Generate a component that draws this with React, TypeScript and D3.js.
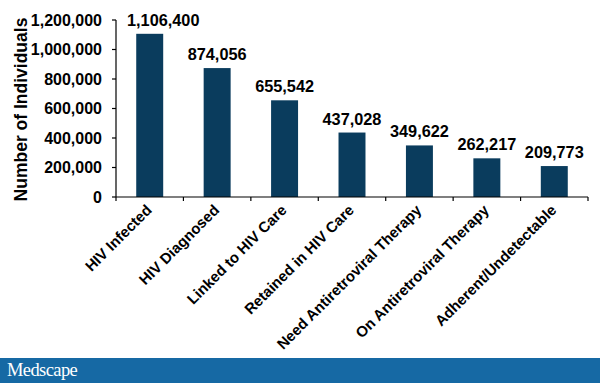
import React from "react";
import * as d3 from "d3";

const categories = [
  "HIV Infected",
  "HIV Diagnosed",
  "Linked to HIV Care",
  "Retained in HIV Care",
  "Need Antiretroviral Therapy",
  "On Antiretroviral Therapy",
  "Adherent/Undetectable",
];
const values = [1106400, 874056, 655542, 437028, 349622, 262217, 209773];
const yTicks = [0, 200000, 400000, 600000, 800000, 1000000, 1200000];

const W = 600;
const H = 383;
const left = 116;
const right = 588;
const top = 20;
const bottom = 197;

export default function App() {
  const x = d3.scaleBand<string>().domain(categories).range([left, right]).paddingInner(0.6).paddingOuter(0.3);
  const y = d3.scaleLinear().domain([0, 1200000]).range([bottom, top]);
  const fmt = d3.format(",");
  const font = "Arial, 'Liberation Sans', sans-serif";
  const step = (right - left) / categories.length;
  const tickXs = d3.range(categories.length + 1).map((i) => left + i * step);
  const valueFs = 16.3;
  const approxWidth = (s: string) => {
    let w = 0;
    for (const ch of s) w += ch === "," ? 0.278 : 0.556;
    return w * valueFs;
  };

  return (
    <svg width={W} height={H} style={{ position: "absolute", left: 0, top: 0, display: "block" }}>
      <rect x={0} y={0} width={W} height={H} fill="#ffffff" />
      {categories.map((c, i) => (
        <rect key={c} x={x(c)} y={y(values[i])} width={x.bandwidth()} height={bottom - y(values[i])} fill="#0a3c5d" />
      ))}
      {/* y axis */}
      <line x1={left} x2={left} y1={top} y2={bottom} stroke="#000" strokeWidth={1.2} />
      {yTicks.map((t) => (
        <g key={t}>
          <line x1={left - 4} x2={left} y1={y(t)} y2={y(t)} stroke="#000" strokeWidth={1.2} />
          <text x={left - 14} y={y(t)} dy="0.36em" textAnchor="end" fontFamily={font} fontWeight="bold" fontSize={16} fill="#000">
            {fmt(t)}
          </text>
        </g>
      ))}
      {/* x axis */}
      <line x1={left} x2={right} y1={bottom} y2={bottom} stroke="#000" strokeWidth={1.2} />
      {tickXs.map((tx, i) => (
        <line key={i} x1={tx} x2={tx} y1={bottom} y2={bottom + 4} stroke="#000" strokeWidth={1.2} />
      ))}
      {categories.map((c) => {
        const cx = (x(c) ?? 0) + x.bandwidth() / 2 + 3;
        return (
          <text
            key={c}
            transform={`translate(${cx},${bottom + 14}) rotate(-45)`}
            textAnchor="end"
            fontFamily={font}
            fontWeight="bold"
            fontSize={15}
            fill="#000"
          >
            {c}
          </text>
        );
      })}
      {categories.map((c, i) => {
        const label = fmt(values[i]);
        const center = (x(c) ?? 0) + x.bandwidth() / 2;
        const cx = Math.max(center, left + approxWidth(label) / 2 + 11);
        return (
          <text
            key={c}
            x={cx}
            y={y(values[i]) - 8}
            textAnchor="middle"
            fontFamily={font}
            fontWeight="bold"
            fontSize={valueFs}
            fill="#000"
          >
            {label}
          </text>
        );
      })}
      <text
        transform={`translate(27,${(top + bottom) / 2 + 1}) rotate(-90)`}
        textAnchor="middle"
        fontFamily={font}
        fontWeight="bold"
        fontSize={17.5}
        fill="#000"
      >
        Number of Individuals
      </text>
      <rect x={0} y={358} width={W} height={25} fill="#1669a4" />
      <text x={7} y={375.5} fontFamily="'Liberation Serif', 'DejaVu Serif', serif" fontSize={18.5} fill="#ffffff" letterSpacing={-0.6}>
        Medscape
      </text>
    </svg>
  );
}
